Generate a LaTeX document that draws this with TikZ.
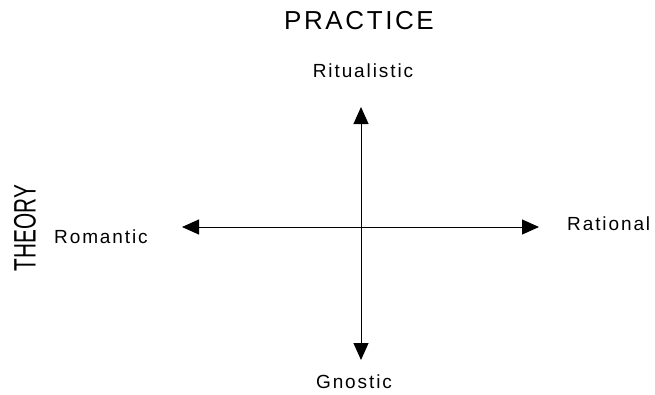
\documentclass[tikz,border=0pt]{standalone}
\usepackage{fontspec}
\setmainfont{Liberation Sans}
\newfontfamily\headfont[LetterSpace=10]{Liberation Sans}
\newfontfamily\polefont[LetterSpace=10]{Liberation Sans}
\usetikzlibrary{arrows.meta}

\begin{document}
\begin{tikzpicture}[
    x=1pt,y=-1pt,
    axis/.style={
        {Triangle[length=17pt,width=15pt]}-{Triangle[length=17pt,width=15pt]},
        line width=1pt,
        black
    },
    pole/.style={
        font=\polefont\fontsize{19}{22}\selectfont,
        inner sep=0pt
    },
    heading/.style={
        font=\headfont\fontsize{26}{30}\selectfont,
        inner sep=0pt
    }
]

\useasboundingbox (0,0) rectangle (655,394);

% Axis ends
\coordinate (ptop) at (361,107);
\coordinate (pbot) at (361,360);
\coordinate (tleft) at (182,227);
\coordinate (tright) at (539,227);

% Headings
\node[heading,anchor=base] (practice) at (359,29) {PRACTICE};
\node[inner sep=0pt,rotate=90,font=\fontsize{31}{34}\selectfont] (theory) at (25,228)
    {\scalebox{0.67}[1]{THEORY}};

% Poles
\node[pole,anchor=base] (ritual) at (363,77) {Ritualistic};
\node[pole,anchor=base] (gnostic) at (354,388) {Gnostic};
\node[pole,anchor=base west] (romantic) at (54,243) {Romantic};
\node[pole,anchor=base west] (rational) at (567,230) {Rational};

% Axes
\draw[axis] (ptop) -- (pbot);
\draw[axis] (tleft) -- (tright);

\end{tikzpicture}
\end{document}
